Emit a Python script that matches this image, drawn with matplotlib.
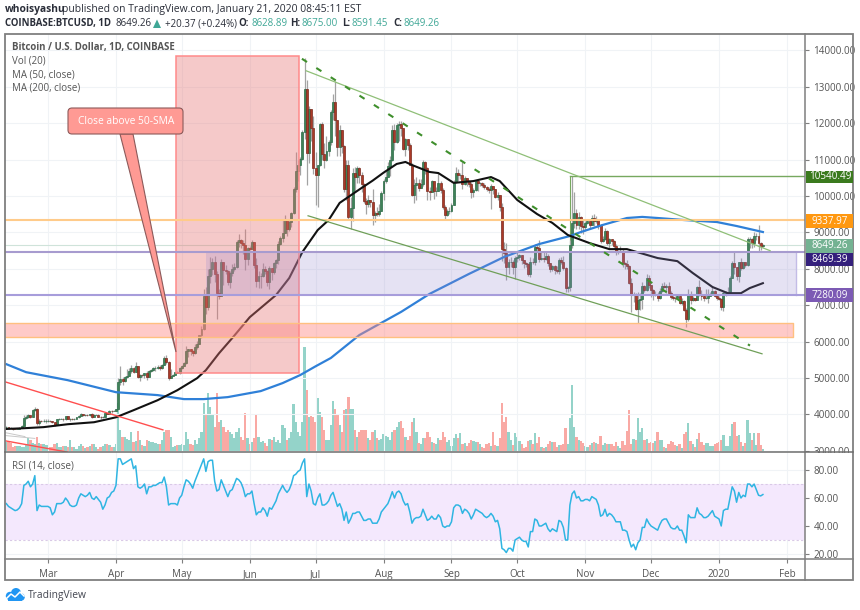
import numpy as np
import matplotlib
matplotlib.use("Agg")
import matplotlib.pyplot as plt
from matplotlib.patches import Rectangle, FancyBboxPatch, Polygon, Circle

plt.rcParams['font.family'] = ['Open Sans', 'DejaVu Sans']

# day numbers count from 1 March 2019
days = np.arange(-19, 327)

closes = [
    # feb
    3660, 3630, 3625, 3610, 3600, 3610, 3625, 3680, 3905, 3930, 3975, 3940, 4125, 4150, 3750, 3830, 3810, 3810, 3815,
    # mar
    3825, 3815, 3790, 3715, 3860, 3870, 3880, 3860, 3945, 3880, 3880, 3870, 3880, 3920, 3960, 4010, 3990, 3990, 3970, 4000, 3920, 3985, 3990, 3940, 3920, 3930, 4040, 4020, 4100, 4095, 4105,
    # apr
    4140, 4900, 4970, 4910, 5040, 5050, 5190, 5280, 5170, 5320, 5040, 5080, 5070, 5150, 5030, 5200, 5230, 5280, 5280, 5310, 5280, 5370, 5540, 5430, 5010, 5050, 5090, 5160, 5150, 5270,
    # may
    5340, 5410, 5750, 5790, 5740, 5680, 5840, 5940, 6170, 6340, 7260, 6960, 7790, 7990, 8190, 7870, 7340, 7260, 8190, 7960, 7950, 7630, 7880, 7990, 8060, 8730, 8780, 8720, 8660, 8270, 8560,
    # jun
    8550, 8730, 8110, 7670, 7800, 7800, 8000, 7930, 7630, 8010, 7920, 8170, 8240, 8690, 8840, 8990, 9330, 9080, 9280, 9530, 10200, 10700, 10860, 11020, 11770, 12930, 11170, 12400, 11880, 10760,
    # jul
    10590, 10840, 11980, 11150, 10990, 11240, 11480, 12300, 12570, 12100, 11340, 11800, 11370, 10200, 10850, 9430, 9680, 10630, 10530, 10760, 10590, 10330, 9850, 9770, 9880, 9840, 9480, 9530, 9510, 9590, 10090,
    # aug
    10400, 10530, 10820, 10980, 11810, 11470, 11950, 11970, 11860, 11290, 11560, 11390, 10860, 10020, 10300, 10360, 10220, 10320, 10920, 10760, 10130, 10110, 10400, 10130, 10130, 10360, 10170, 9710, 9490, 9580, 9600,
    # sep
    9760, 10380, 10620, 10570, 10580, 10320, 10490, 10400, 10320, 10100, 10160, 10420, 10360, 10360, 10310, 10260, 10190, 10160, 10270, 10180, 9980, 10030, 9700, 8530, 8430, 8060, 8190, 8200, 8050, 8300,
    # oct
    8320, 8380, 8230, 8150, 8140, 7860, 8200, 8180, 8590, 8570, 8270, 8300, 8280, 8350, 8160, 8000, 8080, 7960, 7950, 8230, 8200, 8020, 7470, 7500, 8660, 9250, 9540, 9210, 9430, 9180, 9150,
    # nov
    9260, 9310, 9200, 9400, 9310, 9340, 9200, 8770, 8810, 9040, 8720, 8810, 8760, 8630, 8460, 8490, 8500, 8170, 8120, 8080, 7620, 7280, 7320, 6900, 7130, 7160, 7520, 7430, 7750, 7560,
    # dec
    7420, 7300, 7300, 7190, 7400, 7540, 7510, 7520, 7340, 7220, 7200, 7190, 7250, 7070, 7120, 6880, 6610, 7290, 7150, 7190, 7150, 7510, 7320, 7260, 7200, 7200, 7250, 7300, 7390, 7250, 7190,
    # jan
    7170, 6950, 7340, 7350, 7360, 7760, 8150, 8050, 7810, 8190, 8020, 8180, 8110, 8810, 8810, 8720, 8900, 8900, 8700, 8629, 8649.26,
]

highs = [
    3680, 3660, 3650, 3640, 3630, 3640, 3650, 3700, 3990, 3990, 4000, 3990, 4150, 4210, 4170, 3860, 3850, 3860, 3860,
    3860, 3840, 3830, 3800, 3880, 3900, 3910, 3900, 3960, 3950, 3900, 3890, 3900, 3930, 3980, 4040, 4020, 4010, 4000, 4020, 4030, 4000, 4010, 4000, 3950, 3950, 4050, 4050, 4110, 4120, 4120,
    4160, 5000, 5330, 5030, 5050, 5240, 5270, 5350, 5290, 5430, 5340, 5120, 5120, 5150, 5180, 5230, 5260, 5310, 5340, 5370, 5350, 5380, 5600, 5640, 5460, 5250, 5120, 5170, 5180, 5290,
    5360, 5430, 5870, 5810, 5780, 5760, 5940, 6020, 6180, 6440, 7450, 7500, 8000, 8330, 8290, 8350, 7950, 7440, 8260, 8190, 8100, 7980, 7950, 8120, 8150, 8800, 8950, 8810, 8780, 9100, 8590,
    8620, 8800, 8740, 8300, 7950, 7880, 8150, 8070, 7980, 8090, 8030, 8200, 8270, 8750, 8890, 9350, 9480, 9340, 9330, 9550, 10250, 11200, 11000, 11080, 11800, 13800, 13200, 12460, 12400, 12200,
    11200, 10850, 12000, 12040, 11450, 11650, 11550, 12350, 12800, 13150, 12100, 11950, 11800, 11400, 10980, 11000, 9970, 10780, 10800, 10830, 10800, 10650, 10350, 9950, 10030, 9900, 10200, 9590, 9710, 9770, 10150,
    10480, 10680, 10920, 11090, 11950, 11970, 12010, 12060, 12050, 11860, 11590, 11550, 11450, 10900, 10470, 10520, 10460, 10460, 11000, 10950, 10800, 10250, 10450, 10400, 10240, 10620, 10400, 10220, 9750, 9650, 9690,
    9810, 10450, 10800, 10750, 10640, 10920, 10560, 10480, 10450, 10380, 10220, 10450, 10450, 10380, 10380, 10350, 10280, 10260, 10330, 10280, 10090, 10100, 10030, 9800, 8730, 8720, 8280, 8320, 8230, 8340,
    8500, 8400, 8390, 8240, 8200, 8170, 8320, 8300, 8670, 8670, 8800, 8450, 8450, 8450, 8420, 8170, 8100, 8100, 8090, 8300, 8320, 8340, 8060, 7530, 8800, 10540, 10100, 9650, 9570, 9450, 9380,
    9300, 9370, 9380, 9480, 9500, 9440, 9380, 9220, 8900, 9120, 9070, 8850, 8830, 8800, 8680, 8520, 8620, 8530, 8180, 8230, 8110, 7740, 7350, 7330, 7370, 7340, 7640, 7550, 7850, 7840,
    7550, 7440, 7400, 7360, 7480, 7620, 7640, 7580, 7650, 7380, 7280, 7260, 7310, 7290, 7200, 7150, 6920, 7440, 7400, 7240, 7190, 7520, 7700, 7420, 7280, 7440, 7440, 7370, 7530, 7430, 7320,
    7260, 7190, 7400, 7400, 7500, 7810, 8210, 8470, 8040, 8200, 8290, 8200, 8200, 8880, 8880, 8840, 9000, 8980, 9200, 8740, 8675,
]

lows = [
    3620, 3600, 3590, 3580, 3590, 3590, 3610, 3620, 3670, 3880, 3900, 3900, 3930, 4080, 3720, 3720, 3780, 3780, 3770,
    3790, 3780, 3770, 3680, 3700, 3840, 3860, 3830, 3850, 3860, 3820, 3840, 3850, 3860, 3910, 3960, 3960, 3960, 3950, 3950, 3900, 3950, 3970, 3920, 3880, 3900, 3920, 4000, 4010, 4050, 4090,
    4080, 4120, 4800, 4800, 4880, 5000, 5060, 5150, 5140, 5170, 4990, 4930, 5030, 5010, 4950, 5030, 5170, 5200, 5200, 5240, 5220, 5260, 5370, 5390, 4950, 4990, 5050, 5090, 5130, 5110,
    5260, 5330, 5390, 5580, 5620, 5600, 5660, 5800, 5930, 6110, 6330, 6770, 6870, 7620, 7830, 7650, 6620, 7170, 7250, 7560, 7870, 7550, 7480, 7800, 7950, 8030, 8600, 8570, 8410, 7960, 8100,
    8510, 8530, 8020, 7490, 7470, 7480, 7770, 7850, 7520, 7450, 7700, 7860, 8030, 8140, 8640, 8730, 8970, 8910, 9050, 9160, 9510, 10100, 10400, 10570, 10980, 11560, 10300, 10900, 11500, 10600,
    9740, 9700, 10820, 11000, 10780, 10950, 11100, 11400, 12100, 11650, 11100, 11100, 11180, 10100, 9880, 9380, 9090, 9300, 10100, 10360, 10350, 10100, 9800, 9500, 9700, 9700, 9200, 9280, 9450, 9450, 9580,
    9890, 10370, 10540, 10550, 10950, 11250, 11450, 11520, 11650, 11250, 11100, 11250, 10850, 10000, 9800, 9900, 10150, 10250, 10270, 10600, 9900, 9880, 10100, 9930, 10000, 10170, 10080, 9640, 9350, 9450, 9500,
    9570, 9740, 10350, 10400, 10480, 10180, 10300, 10280, 10250, 9950, 9980, 10130, 10150, 10270, 10260, 10180, 10130, 10090, 9640, 10050, 9950, 9880, 9600, 8220, 8160, 7680, 7860, 8050, 7850, 7720,
    8180, 8240, 8130, 8030, 8060, 7800, 7770, 8130, 8100, 8490, 8200, 8240, 8200, 8230, 8080, 7920, 7950, 7850, 7880, 7870, 8130, 7980, 7350, 7370, 7390, 8560, 9120, 9100, 9090, 8980, 8950,
    9050, 9220, 9130, 9200, 9170, 9260, 9090, 8700, 8730, 8800, 8640, 8560, 8650, 8540, 8380, 8420, 8460, 8040, 8000, 8000, 7580, 6800, 7100, 6880, 6500, 6880, 6900, 7360, 7400, 7470,
    7230, 7150, 7260, 7120, 7180, 7360, 7470, 7340, 7280, 7170, 7150, 7100, 7200, 7030, 7000, 6830, 6410, 6560, 7040, 7120, 7120, 7140, 7260, 7150, 7120, 7160, 7070, 7250, 7270, 7220, 7140,
    7150, 6860, 6850, 7260, 7320, 7360, 7740, 7870, 7690, 7650, 7960, 8000, 8050, 8080, 8580, 8570, 8610, 8800, 8480, 8520, 8591.45,
]

volumes = [
    10, 10, 9, 5, 6, 6, 6, 5, 5, 7, 14, 12, 9, 8, 15, 9, 8, 8, 7,
    7, 5, 5, 8, 9, 5, 5, 6, 6, 5, 12, 5, 5, 3, 6, 8, 6, 4, 5, 6, 8, 8, 5, 3, 5, 6, 8, 8, 7, 5, 5,
    8, 49, 22, 15, 15, 13, 12, 20, 10, 11, 21, 12, 7, 6, 12, 11, 10, 10, 9, 8, 8, 12, 20, 22, 22, 15, 5, 6, 7, 7,
    8, 7, 20, 13, 8, 7, 12, 8, 14, 20, 49, 37, 59, 45, 38, 25, 59, 30, 32, 25, 20, 22, 20, 18, 14, 20, 24, 15, 12, 39, 14,
    8, 10, 14, 37, 15, 10, 11, 9, 6, 13, 12, 15, 10, 12, 9, 27, 24, 12, 14, 20, 48, 30, 20, 16, 30, 105, 62, 35, 36, 35,
    30, 54, 40, 35, 22, 12, 12, 27, 51, 43, 38, 27, 20, 42, 43, 55, 43, 43, 22, 15, 20, 22, 22, 22, 14, 12, 20, 22, 14, 12, 13,
    18, 16, 15, 12, 20, 22, 25, 30, 31, 24, 15, 12, 16, 30, 34, 20, 9, 8, 14, 14, 20, 15, 10, 9, 8, 14, 12, 20, 15, 10, 12,
    6, 14, 18, 14, 19, 8, 9, 6, 9, 12, 11, 10, 10, 8, 5, 4, 8, 9, 6, 20, 7, 6, 14, 49, 30, 35, 20, 12, 7, 19,
    15, 11, 8, 4, 5, 11, 12, 8, 19, 9, 15, 5, 4, 5, 8, 11, 10, 10, 5, 7, 7, 8, 24, 8, 34, 67, 25, 15, 12, 11, 9,
    6, 5, 7, 9, 10, 9, 8, 16, 7, 9, 8, 8, 8, 6, 10, 6, 4, 11, 7, 21, 42, 8, 13, 12, 34, 20, 24, 12, 13, 9,
    10, 9, 11, 20, 12, 12, 5, 4, 8, 11, 10, 7, 6, 8, 4, 18, 20, 29, 11, 8, 5, 13, 19, 10, 7, 9, 9, 6, 6, 8, 9,
    10, 12, 17, 6, 6, 16, 28, 30, 16, 17, 10, 6, 9, 32, 19, 12, 19, 7, 19, 7, 3,
]

rsi = [
    56, 54, 53, 52, 51, 51.5, 53, 56, 69, 70, 72, 68, 70, 76, 51, 55, 54, 54, 54,
    54, 53, 48, 50, 56, 56, 56, 57, 60, 58, 55, 54, 54, 55, 60, 63, 62, 61, 62, 64, 60, 59, 61, 59, 57, 52, 55, 60, 61, 64, 65,
    69, 88, 88, 84, 85, 86, 87, 88, 81, 83, 68, 67, 68, 70, 63, 68, 68, 69, 69, 70, 71, 71, 75, 68, 55, 56, 56, 56, 55, 60,
    62, 68, 73, 72, 70, 67, 72, 76, 80, 84, 88, 79, 86, 87, 87, 72, 65, 66, 73, 69, 65, 61, 65, 66, 70, 74, 73, 71, 67, 61, 63,
    63, 65, 56, 48, 50, 50, 53, 51, 47, 53, 52, 55, 58, 63, 66, 69, 66, 64, 66, 70, 76, 77, 79, 80, 85, 88, 61, 70, 65, 56,
    55, 60, 63, 55, 55, 56, 58, 62, 64, 59, 54, 56, 52, 44, 50, 42, 45, 49, 49, 50, 50, 47, 44, 44, 45, 45, 42, 42, 42, 45, 50,
    52, 54, 56, 60, 64.5, 60, 64, 65, 63, 58, 55, 56, 50, 42, 45, 46, 46, 47, 52, 48, 44, 45, 47, 45, 45, 48, 46, 40, 39, 40, 40,
    43, 53, 55, 55, 54, 49, 52, 51, 49, 45, 48, 52, 51, 50, 49, 47, 46, 47, 49, 47, 43, 44, 38, 24, 23, 21, 24, 24, 22, 30,
    31, 32, 30, 29, 29, 25, 36, 36, 45, 44, 40, 40, 41, 42, 38, 36, 38, 37, 36, 44, 43, 39, 30, 30, 55, 63, 65, 60, 61, 58, 58,
    59, 59, 58, 61, 60, 59, 55, 47, 48, 52, 47, 49, 48, 46, 43, 43, 43, 37, 37, 36, 30, 25, 27, 23, 28, 30, 39, 39, 45, 42,
    40, 39, 38, 37, 41, 44, 45, 45, 42, 39, 38, 38, 40, 37, 37, 33, 28, 48, 46, 46, 46, 53, 49, 48, 46, 46, 47, 49, 51, 47, 46,
    45, 40, 51, 52, 52, 60, 68, 65, 57, 64, 60, 62, 61, 70, 70, 68, 70, 66, 62, 61.5, 62.5,
]

ma50_days = [-19, -11, -2, 9, 21, 31, 39, 50, 59, 68, 72, 78, 84, 92, 104, 110, 116, 123, 128, 133, 142, 148, 153, 159, 163, 166, 174, 178, 185, 194, 202, 206, 214, 223, 230, 237, 247, 256, 264, 278, 287, 294, 303, 310, 316, 320, 326]
ma50_vals = [3600, 3620, 3650, 3730, 3785, 3920, 4115, 4390, 4665, 4995, 5215, 5680, 6095, 6670, 7280, 7745, 8460, 9065, 9340, 9810, 10180, 10420, 10640, 10880, 10935, 10850, 10660, 10630, 10360, 10410, 10520, 10410, 9890, 9505, 9260, 8930, 8705, 8540, 8540, 8295, 8210, 7885, 7500, 7330, 7330, 7470, 7605]

ma200_days = [-19, -10, 9, 31, 50, 62, 71, 82, 97, 107, 115, 122, 129, 142, 161, 174, 192, 208, 224, 238, 243, 253, 264, 271, 278, 290, 305, 314, 326]
ma200_vals = [5380, 5160, 4940, 4610, 4530, 4420, 4420, 4475, 4640, 4860, 5080, 5320, 5550, 6180, 6815, 7310, 7860, 8325, 8680, 8900, 9010, 9205, 9395, 9425, 9395, 9340, 9285, 9175, 9010]

month_days = [0, 31, 61, 92, 122, 153, 184, 214, 245, 275, 306, 337]
month_labels = ["Mar", "Apr", "May", "Jun", "Jul", "Aug", "Sep", "Oct", "Nov", "Dec", "2020", "Feb"]
price_ticks = list(range(3000, 15000, 1000))
rsi_ticks = [20, 40, 60, 80]

level_high = 10540.49
level_orange = 9337.97
level_top = 8469.39
level_bottom = 7280.09
last_close = 8649.26

W, H = 860, 610
XLIM = (-19.6, 345.2)
TEXT = "#555555"
GRID = "#f0f3f6"
FRAME = "#7f7f7f"
SIZE = 7.1


def pane(left, top, right, bottom):
    return fig.add_axes([left / W, 1 - bottom / H, (right - left) / W, (bottom - top) / H])


fig = plt.figure(figsize=(W / 100, H / 100), dpi=100)

closes = np.array(closes, dtype=float)
opens = np.concatenate([[3650.0], closes[:-1]])
opens[-1] = 8628.89
is_up = closes >= opens
highs = np.maximum(np.maximum(highs, opens), closes)
lows = np.minimum(np.minimum(lows, opens), closes)

# volume sits under the candles in its own axes
vol_ax = pane(5, 34, 805, 452)
vol_ax.set_xlim(*XLIM)
vol_ax.set_ylim(0, 418)
vol_ax.axis("off")
vol_ax.bar(days, volumes, width=1.04, color=["#94d3c9" if u else "#f9a9a4" for u in is_up], linewidth=0, zorder=2)

ax = pane(5, 34, 805, 452)
ax.patch.set_visible(False)
ax.set_xlim(*XLIM)
ax.set_ylim(2967, 14450)
ax.set_axisbelow(True)
ax.grid(True, color=GRID, lw=0.8)
ax.set_xticks(month_days)
ax.set_yticks(price_ticks)
ax.set_yticklabels(["%.2f" % t for t in price_ticks], fontsize=SIZE, color=TEXT)
ax.yaxis.tick_right()
ax.tick_params(axis="y", length=3, color=FRAME, pad=3)
ax.tick_params(axis="x", length=0, labelbottom=False)

# candles
ax.vlines(days, lows, highs, color="#a3a3a3", lw=0.9, zorder=3)
ax.bar(days[is_up], (closes - opens)[is_up], bottom=opens[is_up], width=0.9,
       color="#3f8258", edgecolor="#2a6a46", linewidth=0.5, zorder=4)
ax.bar(days[~is_up], (closes - opens)[~is_up], bottom=opens[~is_up], width=0.9,
       color="#ab3a28", edgecolor="#7c2a1e", linewidth=0.5, zorder=4)

ax.plot(ma200_days, ma200_vals, color="#2f80d8", lw=1.6, zorder=5)
ax.plot(ma50_days, ma50_vals, color="#111111", lw=1.5, zorder=6)

# drawings
ax.add_patch(Rectangle((58.5, 5138), 56, 8708, facecolor=(0.9, 0.45, 0.45, 0.38), edgecolor="#ff8a8a", lw=1.1, zorder=7))
ax.add_patch(Rectangle((72, level_bottom), 269, level_top - level_bottom, facecolor="#9588cf", edgecolor="none", alpha=0.24, zorder=7))
ax.plot([341, 341], [level_bottom, level_top], color="#c3bce6", lw=1, zorder=7)
ax.add_patch(Rectangle((-19.6, 6127), 359.3, 384, facecolor="#ff8a85", edgecolor="none", alpha=0.45, zorder=7))
ax.plot([-19.6, 339.7, 339.7, -19.6], [6127, 6127, 6511, 6511], color="#ffc080", lw=1, zorder=7)

ax.axhline(level_orange, color="#ffcb8a", lw=1.5, zorder=7)
ax.axhline(level_top, color="#a79bcf", lw=1.5, zorder=7)
ax.axhline(level_bottom, color="#a79ddb", lw=1.5, zorder=7)
ax.axhline(last_close, color="#cfe3da", lw=0.8, zorder=1)
ax.plot([238, 345.2], [level_high, level_high], color="#76a85f", lw=1, zorder=7)
ax.plot([238, 238], [level_high, 8560], color="#76a85f", lw=0.8, zorder=2)

# trend lines, given by their end points on the chart
ax.plot([117.7, 329.3], [13440, 8497], color="#8fbf77", lw=0.9, zorder=8)
ax.plot([118.6, 325.6], [9456, 5665], color="#6f9f58", lw=0.9, zorder=8)
ax.plot([115.8, 320.1], [13770, 5890], color="#3f8f2c", lw=1.5, dashes=(2.9, 5.3), zorder=8)
ax.plot([-19.6, 52.4], [4895, 3575], color="#ff4f4f", lw=1, zorder=8)
ax.plot([-19.6, 8.7], [3275, 2967], color="#ff4f4f", lw=1, zorder=8)
ax.plot([-19.6, -10.5], [3500, 3390], color="#c8c8c8", lw=0.7, zorder=2)
ax.plot([-19.6, -6], [3420, 3340], color="#c8c8c8", lw=0.7, zorder=2)

for s in ax.spines.values():
    s.set_visible(False)

# rsi pane
rsi_ax = pane(5, 452, 805, 559)
rsi_ax.set_xlim(*XLIM)
rsi_ax.set_ylim(16.4, 92.9)
rsi_ax.set_axisbelow(True)
rsi_ax.grid(True, color=GRID, lw=0.8)
rsi_ax.axhspan(30, 70, facecolor="#f4e8fd", edgecolor="none", zorder=1)
rsi_ax.axhline(70, color="#d9c9e6", lw=0.8, ls=(0, (2, 2)), zorder=1)
rsi_ax.axhline(30, color="#d9c9e6", lw=0.8, ls=(0, (2, 2)), zorder=1)
rsi_ax.plot(days, rsi, color="#2fb5e2", lw=1.1, zorder=3)
rsi_ax.set_xticks(month_days)
rsi_ax.set_xticklabels(month_labels, fontsize=SIZE, color=TEXT)
rsi_ax.set_yticks(rsi_ticks)
rsi_ax.set_yticklabels(["%.2f" % t for t in rsi_ticks], fontsize=SIZE, color=TEXT)
rsi_ax.yaxis.tick_right()
rsi_ax.tick_params(axis="y", length=3, color=FRAME, pad=3)
rsi_ax.tick_params(axis="x", length=3, color=FRAME, pad=4, direction="out")
for s in rsi_ax.spines.values():
    s.set_visible(False)

# everything placed by pixel goes on a full figure overlay
ov = fig.add_axes([0, 0, 1, 1], zorder=20)
ov.set_xlim(0, W)
ov.set_ylim(H, 0)
ov.axis("off")
ov.patch.set_visible(False)

ov.add_patch(Rectangle((806, 452.5), 46, 6, facecolor="white", edgecolor="none"))
ov.add_patch(Rectangle((5, 34), 848, 546, fill=False, edgecolor=FRAME, lw=1.3))
ov.plot([805, 805], [34, 580], color=FRAME, lw=1.1)
ov.plot([5, 853], [452, 452], color="#6e6e6e", lw=1.1)
ov.plot([5, 853], [559, 559], color=FRAME, lw=1.1)

# price tags on the right scale
tags = [
    (170.5, 183, "#3b7a1e", "10540.49"),
    (214, 228, "#ff9810", "9337.97"),
    (239, 252.5, "#74b292", "8649.26"),
    (252.5, 266, "#34207c", "8469.39"),
    (288, 302, "#7c5ab4", "7280.09"),
]
for top, bottom, color, label in tags:
    ov.add_patch(Rectangle((805.5, top), 47, bottom - top, facecolor=color, edgecolor="none"))
    ov.text(830, (top + bottom) / 2, label, color="white", fontsize=SIZE, ha="center", va="center")

# callout
ov.add_patch(Polygon([(120, 134), (133, 134), (176, 352)], facecolor="#ff9a94", edgecolor="#8c5a5a", lw=0.8))
ov.add_patch(FancyBboxPatch((71, 111), 109, 20, boxstyle="round,pad=3,rounding_size=4",
                            facecolor="#ff9a94", edgecolor="#8c5a5a", lw=0.8))
ov.text(126, 121, "Close above 50-SMA", color="white", fontsize=7.4, ha="center", va="center")

# pane legends
ov.text(12, 47.5, "Bitcoin / U.S. Dollar, 1D, COINBASE", color=TEXT, fontsize=6.9, fontweight="bold", va="center")
ov.text(12, 61, "Vol (20)", color=TEXT, fontsize=7.0, va="center")
ov.text(12, 75, "MA (50, close)", color=TEXT, fontsize=7.0, va="center")
ov.text(12, 88.5, "MA (200, close)", color=TEXT, fontsize=7.0, va="center")
ov.text(12, 466, "RSI (14, close)", color=TEXT, fontsize=7.0, va="center")

# header
INK = "#2a2e39"
ov.text(5, 9.5, "whoisyashu", color=INK, fontsize=7.4, fontweight="bold", va="center")
ov.text(62, 9.5, "published on TradingView.com, January 21, 2020 08:45:11 EST", color=INK, fontsize=7.5, va="center")
ov.text(5, 23.5, "COINBASE:BTCUSD, 1D", color=INK, fontsize=6.9, fontweight="bold", va="center")
ov.text(115, 23.5, "8649.26", color=INK, fontsize=7.0, va="center")
ov.add_patch(Polygon([(153, 28), (161, 28), (157, 19.5)], facecolor="#3fa796", edgecolor="none"))
ov.text(165, 23.5, "+20.37 (+0.24%)", color=INK, fontsize=7.0, va="center")
for x_label, x_value, label, value in [(238, 251, "O:", "8628.89"), (290, 302, "H:", "8675.00"),
                                       (342, 351, "L:", "8591.45"), (393, 404, "C:", "8649.26")]:
    ov.text(x_label, 23.5, label, color=INK, fontsize=7.0, fontweight="bold", va="center")
    ov.text(x_value, 23.5, value, color="#3fa796", fontsize=7.0, va="center")

# logo
LOGO = "#2196f3"
for cx, cy, r in [(10, 596, 4.2), (16, 593, 5), (21, 597, 3.8)]:
    ov.add_patch(Circle((cx, cy), r, facecolor=LOGO, edgecolor="none"))
ov.add_patch(Rectangle((8, 596), 14, 4.8, facecolor=LOGO, edgecolor="none"))
ov.plot([6, 11, 15, 20, 24], [599, 594, 597, 592, 596], color="white", lw=1.1)
ov.text(28, 595.5, "TradingView", color="#434651", fontsize=7.4, va="center")

fig.savefig("out.png", dpi=100)
